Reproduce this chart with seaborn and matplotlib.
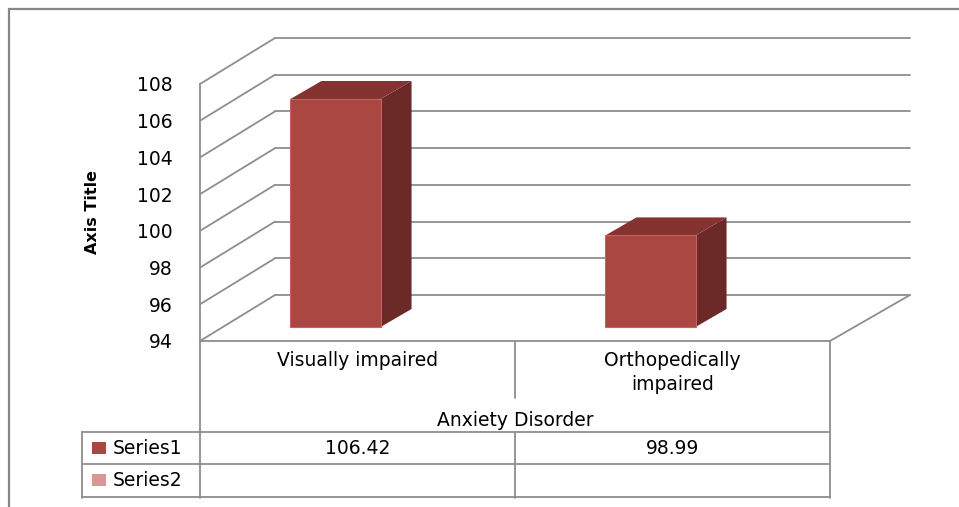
import matplotlib
matplotlib.use("Agg")
import matplotlib.pyplot as plt
import matplotlib.transforms as mtransforms
from matplotlib.lines import Line2D
from matplotlib.patches import Polygon, Rectangle
import pandas as pd
import seaborn as sns

# values
categories = ["Visually impaired", "Orthopedically\nimpaired"]
group_label = "Anxiety Disorder"
series_names = ["Series1", "Series2"]
series1 = [106.42, 98.99]
series2 = [None, None]  # empty row in the data table
y_ticks = [94, 96, 98, 100, 102, 104, 106, 108]
y_title = "Axis Title"

W, H = 959, 507
FRONT = "#AB4743"
EDGE = "#C46460"
TOP = "#843331"
SIDE = "#6B2928"
SERIES_COLORS = ["#AB4743", "#D99694"]
GRID = "#8E8E8E"
FRAME = "#878787"
FS = 13.5

# fake 3d offsets in pixels (x right, y up)
WALL_DXL, WALL_DXR, WALL_DY = 75, 80, 46
BAR_SX, BAR_SY = -22, 14
BAR_DX, BAR_DY = 31, 18

sns.set_theme(style="white")
plt.rcParams["font.family"] = ["DejaVu Sans"]
plt.rcParams["text.color"] = "black"

fig = plt.figure(figsize=(W / 100, H / 100), dpi=100)
ax = fig.add_axes([200 / W, 1 - 341 / H, 630 / W, 257 / H])
ax.patch.set_visible(False)

df = pd.DataFrame({"category": categories, "value": series1})
sns.barplot(data=df, x="category", y="value", color=FRONT, saturation=1,
            width=0.286, edgecolor=EDGE, linewidth=0.8, errorbar=None,
            ax=ax, zorder=3)
ax.set_xlim(-0.5, 1.5)
ax.set_ylim(y_ticks[0], y_ticks[-1])

px = mtransforms.IdentityTransform()


def line(xs, ys, **kw):
    # xs, ys in image pixels (origin top-left)
    fig.add_artist(Line2D(xs, [H - y for y in ys], transform=px,
                          color=GRID, lw=1.3, **kw))


# walls: left wall diagonals + back wall gridlines
for v in y_ticks:
    x0, y0 = ax.transData.transform((-0.5, v))
    x1, _ = ax.transData.transform((1.5, v))
    ax.add_line(Line2D([x0, x0 + WALL_DXL], [y0, y0 + WALL_DY], transform=px,
                       color=GRID, lw=1.3, clip_on=False, zorder=1))
    ax.add_line(Line2D([x0 + WALL_DXL, x1 + WALL_DXR], [y0 + WALL_DY] * 2,
                       transform=px, color=GRID, lw=1.3, clip_on=False, zorder=1))
# floor right edge
fx, fy = ax.transData.transform((1.5, y_ticks[0]))
ax.add_line(Line2D([fx, fx + WALL_DXR], [fy, fy + WALL_DY], transform=px,
                   color=GRID, lw=1.3, clip_on=False, zorder=1))

# bars: move front faces onto the base, then add top and side faces
shift = mtransforms.ScaledTranslation(BAR_SX / 100, BAR_SY / 100, fig.dpi_scale_trans)
for p, v in zip(ax.patches, series1):
    p.set_y(y_ticks[0])
    p.set_height(v - y_ticks[0])
    p.set_transform(ax.transData + shift)
    p.set_clip_on(False)
    bx0, by0 = ax.transData.transform((p.get_x(), y_ticks[0]))
    bx1, by1 = ax.transData.transform((p.get_x() + p.get_width(), v))
    bx0, bx1 = bx0 + BAR_SX, bx1 + BAR_SX
    by0, by1 = by0 + BAR_SY, by1 + BAR_SY
    ax.add_patch(Polygon([(bx1, by0), (bx1 + BAR_DX, by0 + BAR_DY),
                          (bx1 + BAR_DX, by1 + BAR_DY), (bx1, by1)],
                         transform=px, facecolor=SIDE, edgecolor="none",
                         clip_on=False, zorder=2))
    ax.add_patch(Polygon([(bx0, by1), (bx1, by1), (bx1 + BAR_DX, by1 + BAR_DY),
                          (bx0 + BAR_DX, by1 + BAR_DY)],
                         transform=px, facecolor=TOP, edgecolor="none",
                         clip_on=False, zorder=2))

# axes styling
for s in ["top", "right"]:
    ax.spines[s].set_visible(False)
for s in ["left", "bottom"]:
    ax.spines[s].set_color(GRID)
    ax.spines[s].set_linewidth(1.3)
ax.set_yticks(y_ticks)
ax.tick_params(axis="y", length=0, pad=19.5, labelsize=FS, labelcolor="black")
ax.tick_params(axis="x", length=0, pad=7, labelsize=FS, labelcolor="black")
for lbl in ax.get_xticklabels():
    lbl.set_multialignment("center")
    lbl.set_linespacing(1.35)
ax.set_xlabel("")
ax.set_ylabel(y_title, fontsize=11.5, fontweight="bold", color="black")
ax.yaxis.set_label_coords(-0.159, 0.5)

# data table under the plot
line([200, 200], [341, 498])
line([830, 830], [341, 498])
line([515, 515], [341, 398])
line([515, 515], [432, 498])
line([82, 82], [432, 498])
for y in [432, 464, 497]:
    line([82, 830], [y, y])

fig.text(515 / W, 1 - 421 / H, group_label, ha="center", va="center", fontsize=FS)
row_y = [448, 480]
for name, col, y in zip(series_names, SERIES_COLORS, row_y):
    fig.add_artist(Rectangle((92, H - y - 6), 14, 12, transform=px,
                             facecolor=col, edgecolor="none"))
    fig.text(113 / W, 1 - y / H, name, ha="left", va="center", fontsize=FS)

xt = mtransforms.blended_transform_factory(ax.transData, px)
for i, v in enumerate(series1):
    ax.text(i, H - row_y[0], f"{v:.2f}", transform=xt, ha="center",
            va="center", fontsize=FS, clip_on=False)
for i, v in enumerate(series2):
    if v is not None:
        ax.text(i, H - row_y[1], f"{v:.2f}", transform=xt, ha="center",
                va="center", fontsize=FS, clip_on=False)

# outer chart frame (cut off at right and bottom like the source)
fig.add_artist(Rectangle((9, -20), 990, H - 9 + 20, transform=px,
                         fill=False, edgecolor=FRAME, lw=1.6))

fig.savefig("out.png", dpi=100)
